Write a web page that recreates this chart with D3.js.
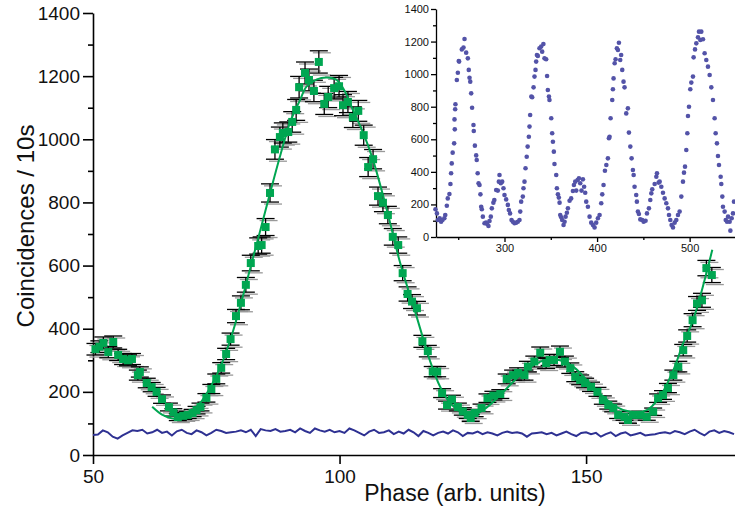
<!DOCTYPE html>
<html>
<head>
<meta charset="utf-8">
<script src="https://cdn.jsdelivr.net/npm/d3@7"></script>
<style>
  body { margin: 0; background: #fff; }
  svg { display: block; font-family: 'Liberation Sans', Arial, sans-serif; }
</style>
</head>
<body>
<svg width="735" height="512"></svg>
<script>
const width = 735,
  height = 512;
const svg = d3.select('svg');

// Main measurement: phase vs coincidence counts
const phase = [
  50.5, 51.3, 52.1, 53.1, 54.1, 55.1, 56.1, 57.1, 57.9, 59.1, 59.5, 60.9, 61.9, 62.9, 64.0, 65.4,
  66.3, 67.2, 68.3, 69.2, 70.2, 71.0, 71.8, 73.0, 74.0, 75.0, 76.0, 77.0, 77.9, 79.0, 80.0, 81.0,
  82.0, 83.5, 84.2, 85.0, 85.9, 86.9, 87.9, 88.5, 89.6, 90.4, 91.2, 91.8, 93.0, 93.8, 94.8, 95.8,
  96.9, 97.7, 98.9, 99.9, 100.7, 101.7, 102.7, 103.8, 104.9, 105.8, 106.8, 107.8, 108.8, 109.8,
  110.8, 111.9, 112.8, 113.8, 114.7, 115.7, 116.8, 117.9, 118.9, 119.8, 120.8, 121.8, 122.8, 124.0,
  125.0, 126.0, 126.6, 127.4, 128.8, 130.0, 131.2, 132.6, 133.9, 135.2, 136.2, 137.5, 138.2, 139.5,
  140.7, 141.9, 142.6, 143.5, 144.7, 145.7, 146.8, 147.8, 148.8, 149.8, 151.0, 152.3, 153.4, 154.5,
  155.5, 156.5, 157.8, 158.5, 159.5, 161.0, 162.3, 163.6, 164.6, 165.6, 166.6, 167.7, 168.7, 169.7,
  170.5, 171.6, 172.5, 173.5, 174.4, 175.5,
];
const counts = [
  335, 343, 355, 326, 358, 317, 304, 300, 304, 253, 263, 228, 215, 200, 177, 152,
  135, 120, 124, 127, 133, 142, 152, 181, 209, 241, 276, 320, 367, 440, 482, 539,
  608, 662, 665, 722, 830, 968, 1007, 1020, 1023, 1055, 1093, 1165, 1210, 1188, 1153, 1245,
  1112, 1134, 1162, 1168, 1108, 1118, 1070, 1090, 1013, 912, 937, 820, 799, 760,
  691, 665, 576, 510, 486, 465, 360, 329, 264, 264, 196, 158, 176, 152,
  138, 127, 117, 133, 149, 180, 188, 193, 241, 253, 260, 253, 280, 296,
  324, 291, 301, 301, 327, 296, 275, 248, 238, 228, 216, 200, 174, 158,
  149, 127, 121, 111, 127, 127, 121, 137, 180, 190, 212, 253, 280, 332,
  377, 427, 480, 490, 592, 570,
];

// Fitted curve
const fitX = [
  62, 64, 66, 67, 68, 70, 72, 74, 76, 78, 80, 82, 84, 86, 88, 90, 92, 93.3, 95.4, 97.4, 99.4,
  101.1, 102.7, 104.8, 106.8, 109.6, 112.3, 115.6, 118.4, 120.4, 122.4, 125, 127, 129.8, 132.6,
  136, 139.3, 142, 144.7, 147.4, 150.1, 153.5, 156.2, 159, 162.3, 165, 167.7, 169.7, 171.7, 175.6,
];
const fitY = [
  153, 128, 116, 114, 116, 138, 170, 220, 285, 372, 480, 598, 716, 835, 950, 1055, 1125, 1167, 1190, 1196, 1188,
  1151, 1093, 1020, 934, 776, 608, 440, 296, 216, 165, 133, 125, 150, 190,
  244, 285, 302, 300, 280, 238, 185, 152, 137, 142, 185, 269, 354, 427, 650,
];

// Background (accidental) coincidences, one value per phase unit from 50 to 180
const bgX = d3.range(50, 181);
const bgY = [
  63, 65, 78, 72, 58, 52, 62, 70, 78, 76, 80,
  68, 72, 80, 70, 74, 62, 75, 80, 70, 66,
  78, 72, 62, 70, 80, 76, 70, 72, 74, 78,
  72, 80, 60, 82, 78, 76, 82, 74, 76, 80,
  72, 84, 76, 70, 84, 78, 74, 80, 72, 76,
  70, 84, 78, 70, 62, 74, 80, 70, 72, 78,
  66, 74, 68, 80, 72, 60, 76, 70, 62, 70,
  74, 68, 78, 72, 60, 70, 68, 74, 66, 72,
  68, 62, 70, 74, 70, 72, 68, 58, 68, 70,
  72, 66, 70, 62, 68, 74, 66, 60, 70, 72,
  66, 70, 58, 66, 72, 60, 68, 72, 62, 66,
  70, 62, 64, 66, 70, 72, 68, 76, 72, 66,
  74, 80, 70, 62, 74, 78, 70, 76, 72, 66, 70,
];

// Inset: long phase scan
const scanX = [
  225.4, 227, 228, 230, 231.5, 233, 235, 236, 237.7, 238.7, 240.5, 241.6, 242.3, 243, 244, 245.6,
  246.3, 246, 246.7, 247, 248.5, 249.6, 250.6, 251, 253.9, 255.7, 256.8, 258.6, 260.4, 261.4, 262.2,
  263, 264, 265, 266.5, 266.8, 268, 269.4, 270, 271, 272, 273, 274, 274.8, 275.5, 276.6, 278.4, 280,
  281.3, 282.7, 283.8, 285.2, 286.3, 288, 289, 291, 292.8, 293.9, 294.6, 296, 297.5, 298.9, 300,
  301.8, 303.6, 304.7, 306, 307.6, 309, 310.8, 312.6, 314.4, 316.2, 317, 318, 319.8, 320.5, 321.6,
  322.7, 324, 325, 326.3, 327, 327.7, 329, 329.9, 331.4, 332.4, 333.5, 334.2, 335, 336, 337.8,
  339.6, 340.7, 342, 343.2, 345, 346, 346.8, 348, 348.6, 350.5, 351.5, 352.3, 353.3, 354, 355.9,
  356.6, 357.7, 358.7, 359.5, 360.2, 361.3, 362.3, 363.8, 364.9, 366, 367.4, 368.5, 370.3, 372,
  373.9, 375, 376.4, 377.5, 379, 380.4, 381.8, 383.2, 384.7, 386, 387.2, 388.3, 390.1, 391.9,
  393.7, 395.5, 397.3, 399.1, 400.9, 402.7, 404.5, 405.6, 407, 408.5, 410, 411.7, 412.8, 413.5,
  414.6, 416.4, 417.1, 417.8, 419, 420, 421.4, 422.5, 423.6, 425, 426, 427.2, 428.6, 429.7, 431.5,
  433.3, 434.4, 435.9, 437.3, 438.7, 439.5, 440.5, 442.3, 443, 444.1, 445.2, 446.7, 448.8, 450.3,
  452.4, 453.9, 456, 457.5, 458.6, 459.6, 462.2, 464, 464.7, 466.5, 467.6, 469.4, 471.2, 473,
  474.8, 476.6, 477.7, 479.1, 480.5, 482, 483.8, 485.6, 487.4, 489.2, 491, 492.8, 493.9, 495,
  496.4, 497.5, 498.2, 499.3, 500.7, 501.8, 503.6, 504.3, 505.8, 507.2, 509, 510.1, 511.5, 512.6,
  514.4, 516.2, 518, 519.8, 521.6, 523.4, 525.2, 527, 528.1, 529.5, 530.6, 531.7, 533.5, 534.2,
  535.3, 536, 537.8, 539, 540.4, 541.5, 543.2, 544, 545.4, 546.8, 547.9,
];
const scanY = [
  170, 145, 104, 115, 94, 104, 115, 135, 192, 237, 264, 325, 391, 452, 518, 575,
  661, 722, 784, 815, 964, 1009, 1081, 1077, 1152, 1163, 1216, 1132, 1097, 1026, 978,
  954, 882, 794, 688, 651, 561, 501, 473, 391, 330, 319, 262, 186, 170, 125, 84, 88,
  80, 68, 98, 125, 176, 211, 227, 289, 285, 340, 381, 330, 340, 299, 258,
  231, 197, 166, 145, 104, 94, 84, 88, 94, 104, 156, 217, 248, 299, 340,
  422, 493, 555, 616, 678, 749, 862, 858, 919, 985, 1026, 1077, 1118, 1112, 1159,
  1169, 1138, 1185, 1097, 1091, 989, 903, 862, 841, 729, 637, 585, 524, 448, 381,
  299, 262, 242, 211, 135, 121, 104, 74, 94, 125, 149, 176, 223, 237,
  282, 319, 340, 285, 350, 360, 330, 285, 354, 309, 272, 217, 186, 125,
  88, 74, 59, 88, 115, 135, 207, 262, 319, 407, 442, 483, 606, 616,
  729, 841, 907, 974, 1067, 1091, 1159, 1148, 1193, 1087, 1118, 1026, 954, 919, 759,
  790, 641, 555, 483, 411, 381, 309, 258, 217, 156, 141, 108, 104, 94,
  100, 145, 176, 227, 268, 293, 325, 370, 391, 334, 340, 309, 272, 237,
  207, 176, 135, 104, 74, 59, 88, 104, 135, 156, 248, 340, 395, 432,
  534, 637, 743, 800, 907, 948, 985, 1103, 1152, 1189, 1226, 1261, 1210, 1261,
  1214, 1128, 1087, 1046, 995, 919, 841, 729, 637, 575, 497, 442, 370, 325,
  248, 186, 156, 104, 94, 125, 94, 39, 115, 145, 217,
];

const yTicks = d3.range(0, 1401, 200);
const yMinor = d3.range(100, 1400, 200);
const xTicks = [50, 100, 150];
const insetXTicks = [300, 400, 500];
const insetXMinor = [250, 350, 450];

const green = '#00a651';
const navy = '#2e3192';
const fmt = d3.format('d');

// ---- main chart ----
const x = d3.scaleLinear().domain([50, 180.2]).range([93, 735]);
const y = d3.scaleLinear().domain([0, 1400]).range([455, 13]);

// axes
const gy = svg.append('g').attr('transform', `translate(${x(50)},0)`);
gy.call(d3.axisLeft(y).tickValues(yTicks).tickFormat(fmt).tickSize(10).tickPadding(3).tickSizeOuter(0));
gy.append('g').call(d3.axisLeft(y).tickValues(yMinor).tickSize(5).tickFormat('')).select('.domain').remove();
const gx = svg.append('g').attr('transform', `translate(0,${y(0)})`);
gx.call(d3.axisBottom(x).tickValues(xTicks).tickFormat(fmt).tickSize(9).tickPadding(6).tickSizeOuter(0));
[gy, gx].forEach((g) => {
  g.selectAll('.domain, line').attr('stroke', '#000').attr('stroke-width', 1.6);
  g.selectAll('text').attr('font-size', 19).attr('fill', '#111');
});

svg
  .append('text')
  .attr('x', 455)
  .attr('y', 501)
  .attr('text-anchor', 'middle')
  .attr('font-size', 23)
  .attr('fill', '#111')
  .text('Phase (arb. units)');
svg
  .append('text')
  .attr('transform', 'translate(34,226) rotate(-90)')
  .attr('text-anchor', 'middle')
  .attr('font-size', 24)
  .attr('fill', '#111')
  .text('Coincidences / 10s');

// background line
svg
  .append('path')
  .datum(bgX.map((d, i) => [d, bgY[i]]))
  .attr('fill', 'none')
  .attr('stroke', navy)
  .attr('stroke-width', 2)
  .attr('d', d3.line().x((d) => x(d[0])).y((d) => y(d[1])));

// error bars (Poisson, sqrt N)
const pts = phase.map((d, i) => ({ x: d, y: counts[i], e: Math.sqrt(counts[i]) }));
const caps = pts.flatMap((d) => [d.y - d.e, d.y + d.e].map((v) => ({ x: d.x, v })));
const eb = svg.append('g');
eb.append('g')
  .selectAll('line')
  .data(caps)
  .join('line')
  .attr('x1', (d) => x(d.x) - 6)
  .attr('x2', (d) => x(d.x) + 12)
  .attr('y1', (d) => y(d.v) + 2)
  .attr('y2', (d) => y(d.v) + 2)
  .attr('stroke', '#999')
  .attr('stroke-width', 1.3);
eb.append('g')
  .selectAll('line')
  .data(pts)
  .join('line')
  .attr('x1', (d) => x(d.x))
  .attr('x2', (d) => x(d.x))
  .attr('y1', (d) => y(d.y - d.e))
  .attr('y2', (d) => y(d.y + d.e))
  .attr('stroke', '#000')
  .attr('stroke-width', 1.3);
eb.append('g')
  .selectAll('line')
  .data(caps)
  .join('line')
  .attr('x1', (d) => x(d.x) - 9)
  .attr('x2', (d) => x(d.x) + 9)
  .attr('y1', (d) => y(d.v))
  .attr('y2', (d) => y(d.v))
  .attr('stroke', '#000')
  .attr('stroke-width', 1.3);

// fit curve
svg
  .append('path')
  .datum(fitX.map((d, i) => [d, fitY[i]]))
  .attr('fill', 'none')
  .attr('stroke', green)
  .attr('stroke-width', 2)
  .attr('d', d3.line().curve(d3.curveCatmullRom).x((d) => x(d[0])).y((d) => y(d[1])));

// data squares
svg
  .append('g')
  .selectAll('rect')
  .data(pts)
  .join('rect')
  .attr('x', (d) => x(d.x) - 4)
  .attr('y', (d) => y(d.y) - 4)
  .attr('width', 8)
  .attr('height', 8)
  .attr('fill', green);

// ---- inset ----
const ix = d3.scaleLinear().domain([226, 549]).range([436, 735]);
const iy = d3.scaleLinear().domain([0, 1400]).range([237, 9]);

const iy0 = svg.append('g').attr('transform', `translate(${ix(226)},0)`);
iy0.call(d3.axisLeft(iy).tickValues(yTicks).tickFormat(fmt).tickSize(5).tickPadding(2).tickSizeOuter(0));
iy0.append('g').call(d3.axisLeft(iy).tickValues(yMinor).tickSize(3).tickFormat('')).select('.domain').remove();
const ix0 = svg.append('g').attr('transform', `translate(0,${iy(0)})`);
ix0.call(d3.axisBottom(ix).tickValues(insetXTicks).tickFormat(fmt).tickSize(5).tickPadding(2).tickSizeOuter(0));
ix0.append('g').call(d3.axisBottom(ix).tickValues(insetXMinor).tickSize(3).tickFormat('')).select('.domain').remove();
[iy0, ix0].forEach((g) => {
  g.selectAll('.domain, line').attr('stroke', '#000').attr('stroke-width', 1.3);
  g.selectAll('text').attr('font-size', 11).attr('fill', '#111');
});

svg
  .append('g')
  .selectAll('circle')
  .data(scanX.map((d, i) => [d, scanY[i]]))
  .join('circle')
  .attr('cx', (d) => ix(d[0]))
  .attr('cy', (d) => iy(d[1]))
  .attr('r', 2.3)
  .attr('fill', '#5353a8');
</script>
</body>
</html>
